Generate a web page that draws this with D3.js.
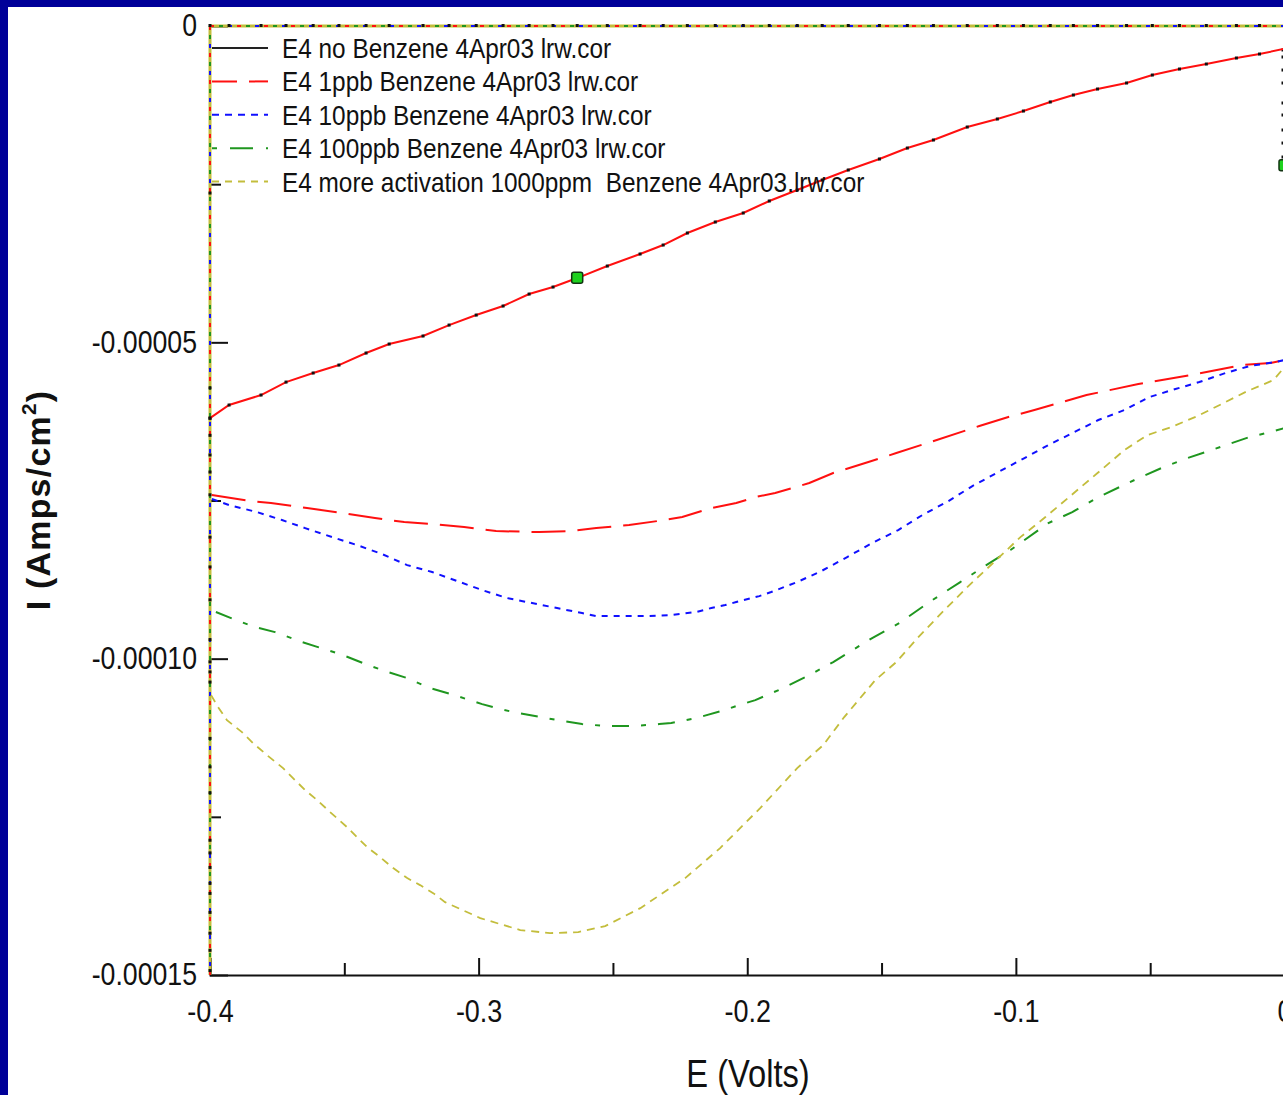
<!DOCTYPE html>
<html>
<head>
<meta charset="utf-8">
<script src="https://cdn.jsdelivr.net/npm/d3@7"></script>
<style>
  html, body { margin: 0; padding: 0; background: #fff; }
  svg { display: block; }
</style>
</head>
<body>
<svg id="chart" width="1283" height="1095"></svg>
<script>
// ---- Potential axis (V) and current density values (A/cm^2) ----

// E4 no Benzene (solid trace with point markers)
const noBenzeneE = [-0.4000, -0.3929, -0.3810, -0.3717, -0.3616, -0.3520, -0.3419, -0.3333, -0.3207, -0.3110,
  -0.3009, -0.2909, -0.2812, -0.2723, -0.2633, -0.2521, -0.2399, -0.2313, -0.2223, -0.2119,
  -0.2015, -0.1918, -0.1814, -0.1721, -0.1624, -0.1508, -0.1404, -0.1307, -0.1181, -0.1069,
  -0.0972, -0.0872, -0.0786, -0.0696, -0.0588, -0.0492, -0.0391, -0.0291, -0.0179, -0.0093, 0.0000];
const noBenzeneI = [-61.97e-6, -59.91e-6, -58.33e-6, -56.28e-6, -54.85e-6, -53.59e-6, -51.69e-6, -50.27e-6, -49.00e-6, -47.27e-6,
  -45.69e-6, -44.26e-6, -42.37e-6, -41.26e-6, -39.84e-6, -37.94e-6, -36.04e-6, -34.62e-6, -32.72e-6, -30.98e-6,
  -29.56e-6, -27.66e-6, -25.93e-6, -24.34e-6, -22.76e-6, -21.02e-6, -19.29e-6, -18.02e-6, -15.97e-6, -14.70e-6,
  -13.44e-6, -12.01e-6, -10.91e-6, -9.96e-6, -9.01e-6, -7.75e-6, -6.80e-6, -6.01e-6, -5.06e-6, -4.43e-6, -3.60e-6];

// E4 1ppb Benzene
const ppb1E = [-0.3993, -0.3851, -0.3773, -0.3639, -0.3505, -0.3386, -0.3277, -0.3173, -0.3054, -0.2935,
  -0.2775, -0.2655, -0.2562, -0.2440, -0.2335, -0.2242, -0.2134, -0.2041, -0.1970, -0.1896,
  -0.1769, -0.1680, -0.1549, -0.1445, -0.1318, -0.1136, -0.1028, -0.0931, -0.0737, -0.0544,
  -0.0350, -0.0156, -0.0052, 0.0000];
const ppb1I = [-74.14e-6, -75.09e-6, -75.40e-6, -76.19e-6, -76.98e-6, -77.78e-6, -78.41e-6, -78.72e-6, -79.20e-6, -79.83e-6,
  -79.99e-6, -79.83e-6, -79.36e-6, -78.88e-6, -78.25e-6, -77.62e-6, -76.19e-6, -75.40e-6, -74.46e-6, -73.82e-6,
  -72.24e-6, -70.66e-6, -68.92e-6, -67.50e-6, -65.76e-6, -63.23e-6, -61.81e-6, -60.70e-6, -58.33e-6, -56.59e-6,
  -55.17e-6, -53.59e-6, -53.27e-6, -52.80e-6];

// E4 10ppb Benzene
const ppb10E = [-0.3993, -0.3929, -0.3825, -0.3732, -0.3646, -0.3546, -0.3453, -0.3359, -0.3266, -0.3173,
  -0.3080, -0.2987, -0.2894, -0.2801, -0.2708, -0.2615, -0.2562, -0.2469, -0.2376, -0.2283,
  -0.2190, -0.2134, -0.2082, -0.2041, -0.1955, -0.1911, -0.1814, -0.1724, -0.1628, -0.1535,
  -0.1438, -0.1348, -0.1251, -0.1162, -0.1065, -0.0968, -0.0879, -0.0782, -0.0693, -0.0596,
  -0.0503, -0.0406, -0.0317, -0.0220, -0.0130, -0.0033, 0.0000];
const ppb10I = [-74.77e-6, -75.72e-6, -76.83e-6, -78.09e-6, -79.36e-6, -80.78e-6, -82.04e-6, -83.47e-6, -85.21e-6, -86.31e-6,
  -87.73e-6, -89.16e-6, -90.42e-6, -91.21e-6, -92.00e-6, -92.79e-6, -93.27e-6, -93.27e-6, -93.27e-6, -93.11e-6,
  -92.63e-6, -92.00e-6, -91.53e-6, -91.05e-6, -90.11e-6, -89.47e-6, -87.89e-6, -86.15e-6, -83.94e-6, -81.73e-6,
  -79.67e-6, -77.30e-6, -75.09e-6, -72.72e-6, -70.50e-6, -68.29e-6, -66.24e-6, -64.18e-6, -62.28e-6, -60.70e-6,
  -58.65e-6, -57.38e-6, -56.28e-6, -54.85e-6, -53.75e-6, -53.11e-6, -52.80e-6];

// E4 100ppb Benzene
const ppb100E = [-0.3978, -0.3903, -0.3832, -0.3758, -0.3657, -0.3598, -0.3505, -0.3412, -0.3337, -0.3266,
  -0.3181, -0.3091, -0.2987, -0.2920, -0.2853, -0.2749, -0.2615, -0.2521, -0.2428, -0.2328,
  -0.2283, -0.2190, -0.2097, -0.2030, -0.1970, -0.1866, -0.1769, -0.1680, -0.1535, -0.1434,
  -0.1322, -0.1207, -0.1110, -0.1020, -0.0879, -0.0790, -0.0693, -0.0551, -0.0458, -0.0361,
  -0.0272, -0.0130, -0.0052, 0.0000];
const ppb100I = [-92.63e-6, -93.90e-6, -95.01e-6, -95.80e-6, -97.38e-6, -98.17e-6, -99.43e-6, -101.01e-6, -102.12e-6, -103.07e-6,
  -104.65e-6, -105.76e-6, -107.18e-6, -107.97e-6, -108.60e-6, -109.39e-6, -110.34e-6, -110.66e-6, -110.66e-6, -110.34e-6,
  -110.18e-6, -109.39e-6, -108.28e-6, -107.34e-6, -106.55e-6, -104.65e-6, -102.59e-6, -100.54e-6, -96.74e-6, -94.37e-6,
  -91.05e-6, -87.89e-6, -85.21e-6, -82.83e-6, -78.57e-6, -76.83e-6, -74.46e-6, -71.61e-6, -69.87e-6, -68.29e-6,
  -67.03e-6, -64.97e-6, -64.18e-6, -63.55e-6];

// E4 more activation 1000ppm Benzene
const ppm1000E = [-0.3996, -0.3970, -0.3937, -0.3881, -0.3840, -0.3788, -0.3728, -0.3691, -0.3646, -0.3601,
  -0.3553, -0.3490, -0.3453, -0.3415, -0.3367, -0.3318, -0.3266, -0.3218, -0.3169, -0.3125,
  -0.2994, -0.2845, -0.2734, -0.2629, -0.2529, -0.2398, -0.2231, -0.2101, -0.1952, -0.1814,
  -0.1717, -0.1639, -0.1523, -0.1445, -0.1363, -0.1266, -0.1173, -0.1073, -0.0983, -0.0890,
  -0.0793, -0.0696, -0.0596, -0.0510, -0.0421, -0.0324, -0.0227, -0.0138, -0.0093, -0.0041, 0.0000];
const ppm1000I = [-105.76e-6, -107.65e-6, -109.71e-6, -111.61e-6, -113.34e-6, -115.24e-6, -117.30e-6, -118.88e-6, -120.77e-6, -122.35e-6,
  -124.25e-6, -126.62e-6, -128.20e-6, -129.79e-6, -131.36e-6, -133.10e-6, -134.68e-6, -135.79e-6, -137.06e-6, -138.48e-6,
  -141.01e-6, -142.90e-6, -143.38e-6, -143.22e-6, -142.27e-6, -139.43e-6, -134.68e-6, -129.94e-6, -123.62e-6, -117.30e-6,
  -113.66e-6, -109.23e-6, -103.38e-6, -100.54e-6, -96.59e-6, -92.32e-6, -88.36e-6, -84.41e-6, -80.78e-6, -77.62e-6,
  -74.14e-6, -70.66e-6, -67.03e-6, -64.65e-6, -63.39e-6, -61.65e-6, -59.60e-6, -57.70e-6, -56.91e-6, -55.96e-6, -53.91e-6];

// Readings recorded along the E = -0.4 V edge and the E = 0 V edge
const leftEdgeI = [-26.4e-6, -57.2e-6, -62.0e-6, -64.7e-6, -67.8e-6, -70.5e-6, -74.1e-6, -80.8e-6, -85.5e-6, -90.7e-6,
  -97.0e-6, -100.5e-6, -102.1e-6, -103.7e-6, -112.6e-6, -117.1e-6, -121.2e-6, -128.7e-6, -130.7e-6, -133.0e-6,
  -135.5e-6, -137.1e-6, -140.1e-6, -143.4e-6, -146.1e-6, -149.3e-6];
const rightEdgeI = [0, -3.79e-6, -4.90e-6, -6.96e-6, -9.01e-6, -12.17e-6, -14.07e-6, -16.44e-6, -18.50e-6, -20.71e-6];

// Highlighted points
const markerE = [-0.2633, 0.0000];
const markerI = [-39.8e-6, -22.0e-6];

// Axis ticks
const eMajorTicks = [-0.4, -0.3, -0.2, -0.1, 0];
const eTickLabels = ["-0.4", "-0.3", "-0.2", "-0.1", "0"];
const eMinorTicks = [-0.35, -0.25, -0.15, -0.05];
const iMajorTicks = [0, -0.00005, -0.00010, -0.00015];
const iTickLabels = ["0", "-0.00005", "-0.00010", "-0.00015"];
const iMinorTicks = [-0.000025, -0.000075, -0.000125];

// Legend entries
const legendLabels = [
  "E4 no Benzene 4Apr03 lrw.cor",
  "E4 1ppb Benzene 4Apr03 lrw.cor",
  "E4 10ppb Benzene 4Apr03 lrw.cor",
  "E4 100ppb Benzene 4Apr03 lrw.cor",
  "E4 more activation 1000ppm  Benzene 4Apr03.lrw.cor"
];

// ---- Drawing ----
const W = 1283, H = 1095;
const SANS = '"Liberation Sans", Arial, sans-serif';
const C = { black: "#222222", red: "#ff1010", blue: "#1010ff", green: "#1f961f", olive: "#c3bd3c", frame: "#000099" };

// Narrow look: squeeze the glyphs of a text horizontally by factor k
function condense(sel, k) {
  sel.each(function () {
    const len = this.getComputedTextLength();
    d3.select(this).attr("textLength", (len * k).toFixed(1)).attr("lengthAdjust", "spacingAndGlyphs");
  });
}

const svg = d3.select("#chart");
svg.append("rect").attr("width", W).attr("height", H).attr("fill", C.frame);
svg.append("rect").attr("x", 8).attr("y", 7).attr("width", W - 8).attr("height", H - 7).attr("fill", "#ffffff");

const x = d3.scaleLinear().domain([-0.4, 0]).range([210, 1284.5]);
const y = d3.scaleLinear().domain([-0.00015, 0]).range([975, 26]);
const line = d3.line().x(d => x(d[0])).y(d => y(d[1]));

// Bottom axis: ticks point up into the plot
const gx = svg.append("g").attr("transform", `translate(0,${y(-0.00015)})`);
gx.call(d3.axisBottom(x).tickValues(eMajorTicks).tickSize(-17).tickPadding(25)
  .tickFormat((d, i) => eTickLabels[i]));
gx.append("g").call(d3.axisBottom(x).tickValues(eMinorTicks).tickSize(-12).tickFormat(""))
  .select(".domain").remove();
gx.selectAll("path.domain").attr("stroke", "#111").attr("stroke-width", 2);
gx.selectAll(".tick line").attr("stroke", "#111").attr("stroke-width", 2);
gx.selectAll(".tick text").attr("font-family", SANS).attr("font-size", 31).attr("fill", "#111");
condense(gx.selectAll(".tick text"), 0.87);

// Left axis: ticks point right into the plot
const gy = svg.append("g").attr("transform", `translate(${x(-0.4)},0)`);
gy.call(d3.axisLeft(y).tickValues(iMajorTicks).tickSize(-18).tickPadding(13)
  .tickFormat((d, i) => iTickLabels[i]));
gy.append("g").call(d3.axisLeft(y).tickValues(iMinorTicks).tickSize(-11).tickFormat(""))
  .select(".domain").remove();
gy.selectAll("path.domain").remove();
gy.selectAll(".tick line").attr("stroke", "#111").attr("stroke-width", 2);
gy.selectAll(".tick text").attr("font-family", SANS).attr("font-size", 31).attr("fill", "#111");
condense(gy.selectAll(".tick text"), 0.86);

// Axis titles
const xt = svg.append("text").attr("x", 748).attr("y", 1087).attr("text-anchor", "middle")
  .attr("font-family", SANS).attr("font-size", 38).attr("fill", "#111").text("E (Volts)");
condense(xt, 0.86);
const yt = svg.append("text").attr("transform", "translate(50,500) rotate(-90)")
  .attr("text-anchor", "middle").attr("font-family", SANS)
  .attr("font-size", 34).attr("font-weight", "bold").attr("letter-spacing", 1.2).attr("fill", "#111");
yt.append("tspan").text("I (Amps/cm");
yt.append("tspan").attr("font-size", 21).attr("dy", -14).text("2");
yt.append("tspan").attr("dy", 14).text(")");

// Edge traces along I = 0 and E = -0.4
const plot = svg.append("g");
const topEdge = [[-0.4, 0], [0, 0]];
const leftEdge = [[-0.4, 0], [-0.4, -0.00015]];
[topEdge, leftEdge].forEach(seg => {
  plot.append("path").attr("d", line(seg)).attr("fill", "none").attr("stroke", C.olive).attr("stroke-width", 3);
  [[C.red, 0], [C.blue, 9], [C.green, 18]].forEach(([col, off]) => {
    plot.append("path").attr("d", line(seg)).attr("fill", "none").attr("stroke", col)
      .attr("stroke-width", 2).attr("stroke-dasharray", "4,23").attr("stroke-dashoffset", off);
  });
});
plot.selectAll("rect.topdot").data(noBenzeneE).join("rect").attr("class", "topdot")
  .attr("x", d => x(d) - 1.5).attr("y", y(0) - 2).attr("width", 3).attr("height", 3).attr("fill", "#111");
plot.selectAll("rect.leftdot").data(leftEdgeI).join("rect").attr("class", "leftdot")
  .attr("x", x(-0.4) - 1.5).attr("y", d => y(d) - 1.5).attr("width", 3).attr("height", 3).attr("fill", "#111");

// Trace at E = 0
plot.append("path").attr("d", line([[0, rightEdgeI[0]], [0, rightEdgeI[1]]]))
  .attr("stroke", "#111").attr("stroke-width", 3).attr("fill", "none");
plot.selectAll("rect.rightdot").data(rightEdgeI.slice(1)).join("rect").attr("class", "rightdot")
  .attr("x", x(0) - 3).attr("y", d => y(d) - 1.5).attr("width", 3).attr("height", 3).attr("fill", "#111");

// Benzene series (dashed styles)
const dashed = [
  { E: ppb1E, I: ppb1I, color: C.red, dash: "34,12", w: 2 },
  { E: ppb10E, I: ppb10I, color: C.blue, dash: "6,6", w: 2 },
  { E: ppb100E, I: ppb100I, color: C.green, dash: "17,12,5,12", w: 2 },
  { E: ppm1000E, I: ppm1000I, color: C.olive, dash: "8,6", w: 1.8 }
];
dashed.forEach(s => {
  plot.append("path").attr("d", line(d3.zip(s.E, s.I))).attr("fill", "none")
    .attr("stroke", s.color).attr("stroke-width", s.w).attr("stroke-dasharray", s.dash);
});

// No-benzene trace with point markers
plot.append("path").attr("d", line(d3.zip(noBenzeneE, noBenzeneI))).attr("fill", "none")
  .attr("stroke", C.red).attr("stroke-width", 2);
plot.selectAll("rect.nbdot").data(d3.zip(noBenzeneE, noBenzeneI)).join("rect").attr("class", "nbdot")
  .attr("x", d => x(d[0]) - 1.5).attr("y", d => y(d[1]) - 1.5).attr("width", 3).attr("height", 3).attr("fill", "#111");

// Highlighted points
plot.selectAll("rect.mark").data(d3.zip(markerE, markerI)).join("rect").attr("class", "mark")
  .attr("x", d => x(d[0]) - 5.5).attr("y", d => y(d[1]) - 5.5).attr("width", 11).attr("height", 11)
  .attr("rx", 2).attr("fill", "#1ed21e").attr("stroke", "#113311").attr("stroke-width", 1.5);

// Legend
const legendStyles = [
  { color: C.black, dash: null },
  { color: C.red, dash: "25,12" },
  { color: C.blue, dash: "7,6" },
  { color: C.green, dash: "5,13,18,0" },
  { color: C.olive, dash: "7,6" }
];
const leg = svg.append("g");
legendLabels.forEach((lab, i) => {
  const ly = 48 + i * 33.4;
  leg.append("line").attr("x1", 212).attr("x2", 268).attr("y1", ly).attr("y2", ly)
    .attr("stroke", legendStyles[i].color).attr("stroke-width", 2)
    .attr("stroke-dasharray", legendStyles[i].dash);
  const t = leg.append("text").attr("x", 282).attr("y", ly + 10).attr("font-family", SANS)
    .attr("font-size", 28).attr("fill", "#111").attr("xml:space", "preserve").text(lab);
  condense(t, 0.87);
});
</script>
</body>
</html>
